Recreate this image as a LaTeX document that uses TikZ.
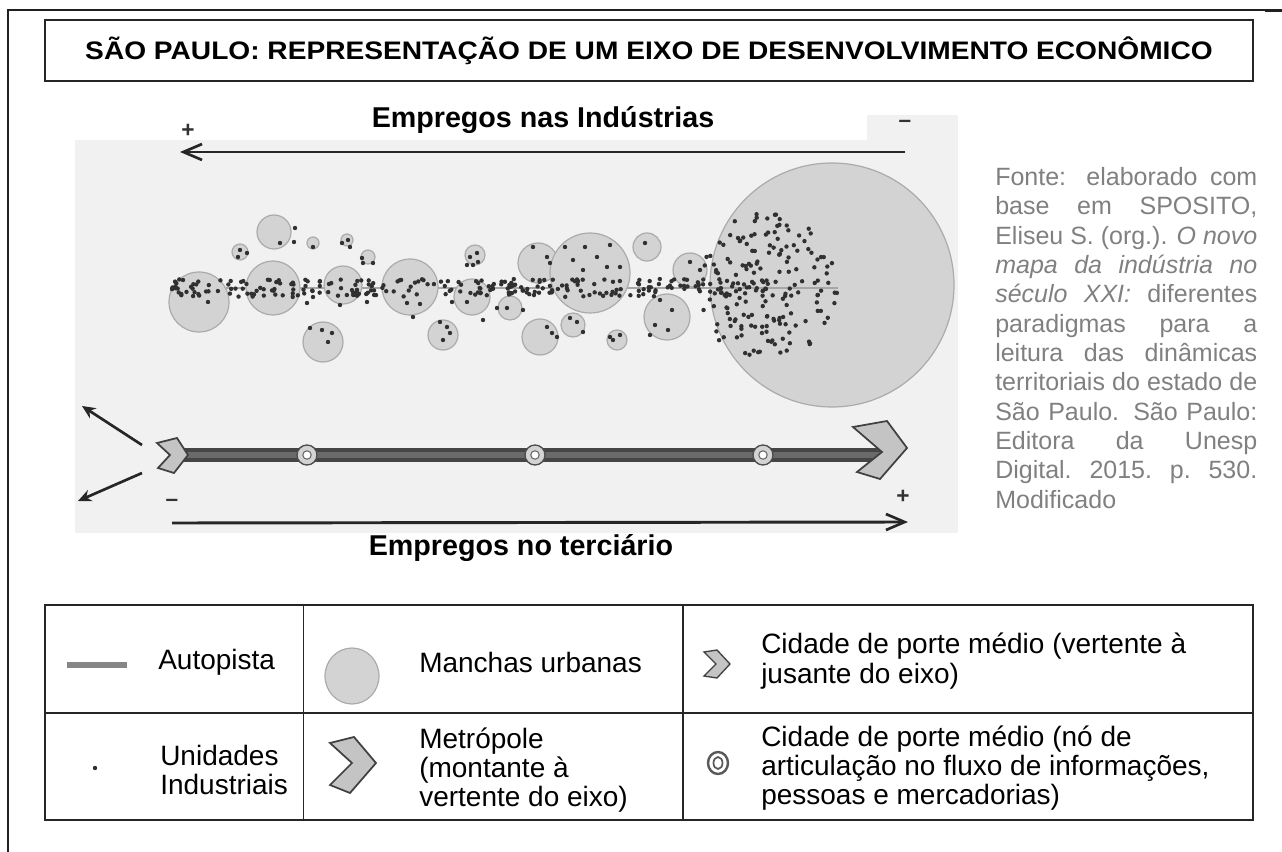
\documentclass[tikz,border=0pt]{standalone}
\usepackage{fontspec}
\setmainfont{Liberation Sans}
\usetikzlibrary{arrows.meta}
\definecolor{dotc}{HTML}{303030}
\definecolor{urb}{HTML}{D3D3D3}
\definecolor{urbline}{HTML}{ABABAB}
\definecolor{bgc}{HTML}{F1F1F1}
\definecolor{srcc}{HTML}{808080}
\definecolor{roadc}{HTML}{454545}
\definecolor{roadin}{HTML}{6A6A6A}
\definecolor{chev}{HTML}{C4C4C4}
\definecolor{framec}{HTML}{202020}
\tikzset{
  urban/.style={fill=urb, draw=urbline, line width=0.9pt},
  axisline/.style={draw=black!85, line width=2.2pt},
  chevshape/.style={fill=chev, draw=black!75, line width=1.3pt, line join=miter},
  ringout/.style={fill=urb, draw=black!70, line width=1pt},
  ringin/.style={fill=white, draw=black!60, line width=0.8pt},
  bigtxt/.style={font=\fontsize{21.5pt}{24pt}\selectfont\bfseries, inner sep=0pt},
  legtxt/.style={font=\fontsize{21pt}{22pt}\selectfont, align=left, anchor=west, inner sep=0pt},
  signtxt/.style={font=\fontsize{17pt}{18pt}\selectfont\bfseries, inner sep=0pt, text=black!80},
  tablerule/.style={draw=black!85, line width=1.1pt}
}
\begin{document}
\begin{tikzpicture}[x=0.75pt,y=-0.75pt]
\useasboundingbox (0,0) rectangle (1282,852);
% outer frame pieces
\draw[framec, line width=1.1pt] (8,852) -- (8,10) -- (1282,10);
\draw[framec, line width=1.8pt] (1265,11) -- (1282,11);

% title
\node[draw=black!85, line width=1.1pt, minimum width=906pt, minimum height=45.75pt,
      font=\fontsize{19pt}{22pt}\selectfont\bfseries] (title) at (649,50.5)
  {\scalebox{1.11}[1]{SÃO PAULO: REPRESENTAÇÃO DE UM EIXO DE DESENVOLVIMENTO ECONÔMICO}};

% background of the figure
\fill[bgc] (75,140) rectangle (958,533);
\fill[bgc] (867,115) rectangle (958,140);

% top axis
\node[bigtxt] (empind) at (543,120) {Empregos nas Indústrias};
\node[signtxt] (plusA) at (188,131) {+};
\node[signtxt] (minusA) at (905,124) {–};
\coordinate (topR) at (905,152);
\coordinate (topL) at (180,152);
\draw[axisline, -{Straight Barb[length=14pt,width=12pt,line width=2pt]}] (topR) -- (topL);

% big metropolitan area
\draw[urban] (832,285) circle (122);
% road line (thin)
\coordinate (hwL) at (170,288);
\coordinate (hwR) at (838,288);
\draw[draw=gray!70, line width=2.2pt] (hwL) -- (hwR);

% urban patches
\foreach \cx/\cy/\r in {199/302/30, 274/232/17, 240/252/8, 273/288/27, 313/243/6, 347/240/6,
  368/257/7, 343/285/19, 323/342/20, 410/287/28, 472/297/18, 475/255/10, 443/335/15,
  510/308/12, 538/263/20, 590/273/40, 540/337/18, 573/325/12, 617/340/10, 647/247/14,
  667/317/23, 690/270/17}
  {\draw[urban] (\cx,\cy) circle (\r);}

% industrial units
\pgfmathsetseed{11}
\foreach \i in {1,...,270}{
  \pgfmathsetmacro\dx{172+rnd*600}
  \pgfmathsetmacro\dy{288+rand*9}
  \fill[dotc] (\dx,\dy) circle (2.2);
}
\foreach \i in {1,...,175}{
  \pgfmathsetmacro\ang{rnd*360}
  \pgfmathsetmacro\rr{sqrt(rnd)}
  \fill[dotc] ({768+70*\rr*cos(\ang)},{287+75*\rr*sin(\ang)}) circle (2.2);
}
\foreach \px/\py in {295/228,294/242,280/243,240/250,247/253,238/257,313/247,342/243,348/240,
  350/247,362/258,363/263,373/263,310/328,322/330,332/333,328/342,470/257,477/253,478/262,
  467/265,473/265,440/322,447/327,450/333,443/340,208/302,307/303,313/297,340/305,367/302,
  407/303,420/304,413/317,452/302,467/302,483/320,497/308,507/308,523/310,533/247,547/257,
  550/263,565/247,585/247,610/245,573/260,597/257,583/270,607/267,620/267,547/327,552/333,
  557/337,570/318,577/322,583/332,610/337,620/335,613/340,645/243,660/300,672/310,655/325,
  650/335,668/330,690/262,700/270}
  {\fill[dotc] (\px,\py) circle (2.2);}

% bottom: road axis
\coordinate (roadL) at (183,455);
\coordinate (roadR) at (882,455);
\draw[draw=roadc, line width=10pt] (roadL) -- (roadR);
\draw[draw=roadin, line width=4pt] (roadL) -- (roadR);
% nodes on the road
\foreach \nx/\nn in {307/n1, 535/n2, 763/n3}{
  \draw[ringout] (\nx,455) circle (10);
  \draw[ringin] (\nx,455) circle (4.2);
  \coordinate (\nn) at (\nx,455);
}
% medium city chevron (left)
\draw[chevshape] (157,443) -- (177,438) -- (188,455) -- (174,473) -- (158,468) -- (170,455) -- cycle;
% metropolis chevron (right)
\draw[chevshape] (853,427) -- (887,421) -- (907,448) -- (880,479) -- (857,472) -- (882,452) -- cycle;

% small diverging arrows
\coordinate (dvA1) at (142,445);
\coordinate (dvA2) at (82,406);
\coordinate (dvB1) at (142,473);
\coordinate (dvB2) at (78,501);
\draw[draw=black!85, line width=2pt, -{Stealth[length=10pt,width=9pt]}] (dvA1) -- (dvA2);
\draw[draw=black!85, line width=2pt, -{Stealth[length=10pt,width=9pt]}] (dvB1) -- (dvB2);

% bottom axis
\node[signtxt] (minusB) at (172,503) {–};
\node[signtxt] (plusB) at (903,497) {+};
\coordinate (botL) at (172,523);
\coordinate (botR) at (908,522);
\draw[axisline, -{Straight Barb[length=14pt,width=12pt,line width=2pt]}] (botL) -- (botR);
\node[bigtxt] (empter) at (521,548) {Empregos no terciário};

% source text
\node[anchor=north west, inner sep=0pt, text=srcc, font=\fontsize{18.75pt}{22pt}\selectfont]
  (src) at (995,167) {\parbox[t]{196.5pt}{%
\makebox[196.5pt][s]{Fonte: elaborado com}\\
\makebox[196.5pt][s]{base em SPOSITO,}\\
\makebox[196.5pt][s]{Eliseu S. (org.). \textit{O novo}}\\
\makebox[196.5pt][s]{\textit{mapa da indústria no}}\\
\makebox[196.5pt][s]{\textit{século XXI:} diferentes}\\
\makebox[196.5pt][s]{paradigmas para a}\\
\makebox[196.5pt][s]{leitura das dinâmicas}\\
\makebox[196.5pt][s]{territoriais do estado de}\\
\makebox[196.5pt][s]{São Paulo. São Paulo:}\\
\makebox[196.5pt][s]{Editora da Unesp}\\
\makebox[196.5pt][s]{Digital. 2015. p. 530.}\\
Modificado}};

% legend table
\draw[tablerule] (45,605) rectangle (1253,820);
\draw[tablerule] (45,713) -- (1253,713);
\draw[tablerule] (303.5,605) -- (303.5,820);
\draw[tablerule] (683,605) -- (683,820);

% legend symbols
\coordinate (lgA1) at (67,665);
\coordinate (lgA2) at (127,665);
\draw[draw=gray!95, line width=3.8pt] (lgA1) -- (lgA2);
\fill[dotc] (95,768) circle (2.2);
\draw[urban] (352,676) ellipse [x radius=27, y radius=28];
\draw[chevshape] (330,743) -- (354,737) -- (376,763) -- (350,793) -- (330,785) -- (352,763) -- cycle;
\draw[chevshape, line width=1pt] (704,652) -- (717,650) -- (730,664) -- (717,678) -- (704,676) -- (716,664) -- cycle;
\draw[draw=black!65, line width=1.8pt] (718,763) ellipse [x radius=10, y radius=11];
\draw[draw=black!65, line width=1.3pt] (718,763) ellipse [x radius=4.5, y radius=6];

% legend texts
\node[legtxt] (lAuto) at (158,662) {Autopista};
\node[legtxt] (lUnid) at (160,770) {Unidades\\Industriais};
\node[legtxt] (lManch) at (419,662) {Manchas urbanas};
\node[legtxt] (lMetro) at (419,770) {Metrópole\\(montante à\\vertente do eixo)};
\node[legtxt] (lCid1) at (761,661) {Cidade de porte médio (vertente à\\jusante do eixo)};
\node[legtxt] (lCid2) at (761,768) {Cidade de porte médio (nó de\\articulação no fluxo de informações,\\pessoas e mercadorias)};
\end{tikzpicture}
\end{document}
